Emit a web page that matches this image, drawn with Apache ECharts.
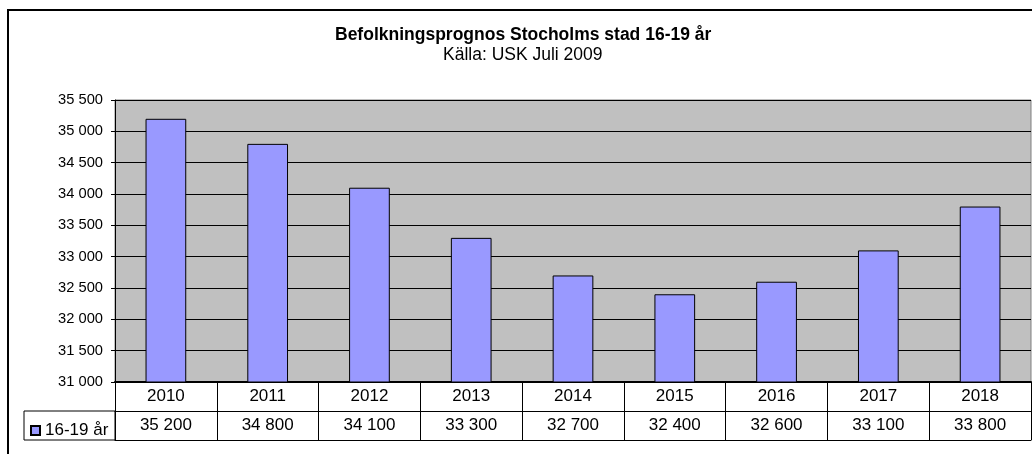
<!DOCTYPE html>
<html>
<head>
<meta charset="utf-8">
<script src="https://cdn.jsdelivr.net/npm/echarts@6/dist/echarts.min.js"></script>
<style>
html,body{margin:0;padding:0;background:#fff;}
#chart{width:1032px;height:454px;}
</style>
</head>
<body>
<div id="chart"></div>
<script>
var years = ['2010','2011','2012','2013','2014','2015','2016','2017','2018'];
var befolkning = [35200, 34800, 34100, 33300, 32700, 32400, 32600, 33100, 33800];
var seriesName = '16-19 år';
var yMin = 31000, yMax = 35500, yStep = 500;

var FONT = "'Liberation Sans', Arial, sans-serif";

// tusental med mellanslag, som i Excel
function fmt(v){
	return String(v).replace(/\B(?=(\d{3})+(?!\d))/g, ' ');
}

var myChart = echarts.init(document.getElementById('chart'));
var option = {
	animation: false,
	textStyle: { fontFamily: FONT },
	// rubriken sitter mitt över diagramramen, inte mitt i fönstret
	title: [
		{
			text: 'Befolkningsprognos Stocholms stad 16-19 år',
			left: 330,
			top: 21,
			textStyle: { fontFamily: FONT, fontSize: 17.5, fontWeight: 'bold', color: '#000' }
		},
		{
			text: 'Källa: USK Juli 2009',
			left: 438,
			top: 41,
			textStyle: { fontFamily: FONT, fontSize: 17.5, fontWeight: 'normal', color: '#000' }
		}
	],
	legend: {
		left: 25,
		top: 417,
		itemWidth: 9,
		itemHeight: 9,
		itemGap: 4,
		textStyle: { fontFamily: FONT, fontSize: 17, color: '#000' },
		data: [{ name: seriesName, icon: 'rect' }]
	},
	grid: {
		left: 115, right: 1, top: 100, bottom: 72,
		show: true,
		backgroundColor: '#C0C0C0',
		borderColor: '#808080',
		borderWidth: 1
	},
	xAxis: [
		{
			type: 'category',
			data: years,
			position: 'bottom',
			axisLine: { lineStyle: { color: '#000', width: 2 } },
			axisTick: { show: true, interval: 0, length: 58, lineStyle: { color: '#000', width: 1 } },
			axisLabel: { interval: 0, margin: 6, fontFamily: FONT, fontSize: 17, color: '#000' },
			splitLine: { show: false }
		},
		{
			type: 'category',
			data: befolkning.map(fmt),
			position: 'bottom',
			offset: 29,
			axisLine: { lineStyle: { color: '#000', width: 1 } },
			axisTick: { show: false },
			axisLabel: { interval: 0, margin: 6, fontFamily: FONT, fontSize: 17, color: '#000' }
		},
		{
			type: 'category',
			data: years,
			position: 'bottom',
			offset: 58,
			axisLine: { lineStyle: { color: '#000', width: 1 } },
			axisTick: { show: false },
			axisLabel: { show: false }
		}
	],
	yAxis: {
		type: 'value',
		min: yMin,
		max: yMax,
		interval: yStep,
		axisLine: { show: true, lineStyle: { color: '#000', width: 1 } },
		axisTick: { show: true, length: 4, lineStyle: { color: '#000' } },
		axisLabel: { margin: 12, fontFamily: FONT, fontSize: 14.7, color: '#000', formatter: fmt },
		splitLine: { show: true, lineStyle: { color: '#000', width: 1 } }
	},
	series: [{
		name: seriesName,
		type: 'bar',
		barWidth: '40%',
		itemStyle: { color: '#9999FF', borderColor: '#000', borderWidth: 1 },
		data: befolkning
	}],
	graphic: [
		{ type: 'rect', shape: { x: 8, y: 10, width: 1100, height: 500 }, style: { fill: 'none', stroke: '#000', lineWidth: 2 }, z: 100 },
		{ type: 'rect', shape: { x: 24, y: 411, width: 91, height: 29 }, style: { fill: 'none', stroke: '#000', lineWidth: 1 }, z: 100 }
	]
};
myChart.setOption(option);
</script>
</body>
</html>
